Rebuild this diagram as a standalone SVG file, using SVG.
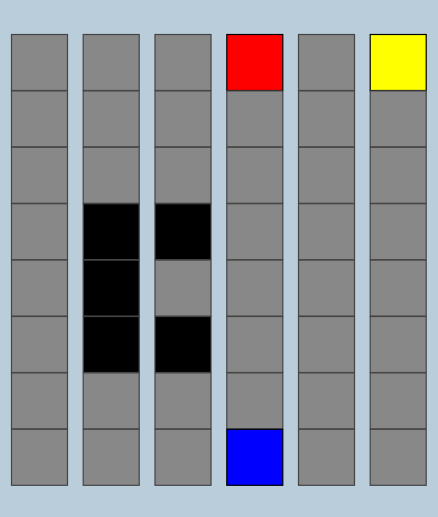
<svg xmlns="http://www.w3.org/2000/svg" width="438" height="517" viewBox="0 0 438 517">
<style>
.c{fill:#888888;stroke:#444444;stroke-width:1.2}
.k{fill:#000000;stroke:#444444;stroke-width:1.2}
.r{fill:#ff0000;stroke:#000000;stroke-width:1.2}
.y{fill:#ffff00;stroke:#000000;stroke-width:1.2}
.b{fill:#0000ff;stroke:#000000;stroke-width:1.2}
</style>
<rect x="0" y="0" width="438" height="517" fill="#bacdda"/>
<g id="col1">
<rect class="c" x="11.5" y="34.5" width="56" height="56"/>
<rect class="c" x="11.5" y="90.9" width="56" height="56"/>
<rect class="c" x="11.5" y="147.3" width="56" height="56"/>
<rect class="c" x="11.5" y="203.7" width="56" height="56"/>
<rect class="c" x="11.5" y="260.1" width="56" height="56"/>
<rect class="c" x="11.5" y="316.5" width="56" height="56"/>
<rect class="c" x="11.5" y="372.9" width="56" height="56"/>
<rect class="c" x="11.5" y="429.3" width="56" height="56"/>
</g>
<g id="col2">
<rect class="c" x="83.2" y="34.5" width="56" height="56"/>
<rect class="c" x="83.2" y="90.9" width="56" height="56"/>
<rect class="c" x="83.2" y="147.3" width="56" height="56"/>
<rect class="k" x="83.2" y="203.7" width="56" height="56"/>
<rect class="k" x="83.2" y="260.1" width="56" height="56"/>
<rect class="k" x="83.2" y="316.5" width="56" height="56"/>
<rect class="c" x="83.2" y="372.9" width="56" height="56"/>
<rect class="c" x="83.2" y="429.3" width="56" height="56"/>
</g>
<g id="col3">
<rect class="c" x="155" y="34.5" width="56" height="56"/>
<rect class="c" x="155" y="90.9" width="56" height="56"/>
<rect class="c" x="155" y="147.3" width="56" height="56"/>
<rect class="k" x="155" y="203.7" width="56" height="56"/>
<rect class="c" x="155" y="260.1" width="56" height="56"/>
<rect class="k" x="155" y="316.5" width="56" height="56"/>
<rect class="c" x="155" y="372.9" width="56" height="56"/>
<rect class="c" x="155" y="429.3" width="56" height="56"/>
</g>
<g id="col4">
<rect class="r" x="226.8" y="34.5" width="56" height="56"/>
<rect class="c" x="226.8" y="90.9" width="56" height="56"/>
<rect class="c" x="226.8" y="147.3" width="56" height="56"/>
<rect class="c" x="226.8" y="203.7" width="56" height="56"/>
<rect class="c" x="226.8" y="260.1" width="56" height="56"/>
<rect class="c" x="226.8" y="316.5" width="56" height="56"/>
<rect class="c" x="226.8" y="372.9" width="56" height="56"/>
<rect class="b" x="226.8" y="429.3" width="56" height="56"/>
</g>
<g id="col5">
<rect class="c" x="298.5" y="34.5" width="56" height="56"/>
<rect class="c" x="298.5" y="90.9" width="56" height="56"/>
<rect class="c" x="298.5" y="147.3" width="56" height="56"/>
<rect class="c" x="298.5" y="203.7" width="56" height="56"/>
<rect class="c" x="298.5" y="260.1" width="56" height="56"/>
<rect class="c" x="298.5" y="316.5" width="56" height="56"/>
<rect class="c" x="298.5" y="372.9" width="56" height="56"/>
<rect class="c" x="298.5" y="429.3" width="56" height="56"/>
</g>
<g id="col6">
<rect class="y" x="370.2" y="34.5" width="56" height="56"/>
<rect class="c" x="370.2" y="90.9" width="56" height="56"/>
<rect class="c" x="370.2" y="147.3" width="56" height="56"/>
<rect class="c" x="370.2" y="203.7" width="56" height="56"/>
<rect class="c" x="370.2" y="260.1" width="56" height="56"/>
<rect class="c" x="370.2" y="316.5" width="56" height="56"/>
<rect class="c" x="370.2" y="372.9" width="56" height="56"/>
<rect class="c" x="370.2" y="429.3" width="56" height="56"/>
</g>
<g id="connectors"></g>
</svg>
